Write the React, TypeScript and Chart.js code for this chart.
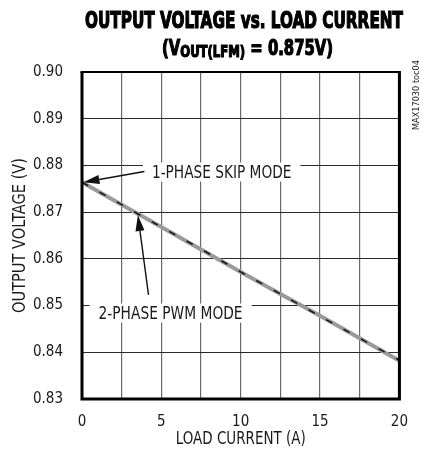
import React, { useEffect, useRef } from 'react';
import { Chart, registerables } from 'chart.js';

Chart.register(...registerables);

// ---- data ----
const loadCurrent = [0, 2.5, 5, 7.5, 10, 12.5, 15, 17.5, 20];
const skipModeVoltage = [0.8764, 0.8716, 0.8668, 0.862, 0.8572, 0.8525, 0.8478, 0.843, 0.8382];
const pwmModeVoltage = [0.8764, 0.8716, 0.8668, 0.8621, 0.8572, 0.8525, 0.8477, 0.843, 0.8383];
const xTickLabels = ['0', '5', '10', '15', '20'];
const yTickLabels = ['0.83', '0.84', '0.85', '0.86', '0.87', '0.88', '0.89', '0.90'];

const titleLine1 = 'OUTPUT VOLTAGE vs. LOAD CURRENT';
const titleLine2 = ['(V', 'OUT(LFM)', ' = 0.875V)'];
const xAxisTitle = 'LOAD CURRENT (A)';
const yAxisTitle = 'OUTPUT VOLTAGE (V)';
const sideNote = 'MAX17030 toc04';

// annotation anchors in data units
const annotationLabels = ['1-PHASE SKIP MODE', '2-PHASE PWM MODE'];
const annotationLabelX = [8.8, 5.58];
const annotationLabelY = [0.8787, 0.8485];
const arrowFromX = [3.93, 4.19];
const arrowFromY = [0.8787, 0.8523];
const arrowToX = [0.09, 3.52];
const arrowToY = [0.8764, 0.8694];

const NARROW = "'Liberation Sans Narrow', 'Arial Narrow', 'DejaVu Sans Condensed', sans-serif";

function drawFit(ctx: CanvasRenderingContext2D, text: string, cx: number, baseline: number, width: number, font: string, bold = false) {
  ctx.save();
  ctx.font = font;
  const w = ctx.measureText(text).width;
  const sx = width / w;
  ctx.translate(cx - width / 2, baseline);
  ctx.scale(sx, 1);
  ctx.textAlign = 'left';
  ctx.textBaseline = 'alphabetic';
  ctx.fillText(text, 0, 0);
  if (bold) {
    ctx.lineWidth = 1.2;
    ctx.strokeText(text, 0, 0);
  }
  ctx.restore();
}

function arrow(ctx: CanvasRenderingContext2D, x1: number, y1: number, x2: number, y2: number) {
  const ang = Math.atan2(y2 - y1, x2 - x1);
  const len = 16;
  const hw = 4.5;
  const bx = x2 - Math.cos(ang) * len;
  const by = y2 - Math.sin(ang) * len;
  ctx.save();
  ctx.strokeStyle = '#111';
  ctx.fillStyle = '#111';
  ctx.lineWidth = 1.4;
  ctx.beginPath();
  ctx.moveTo(x1, y1);
  ctx.lineTo(bx, by);
  ctx.stroke();
  ctx.beginPath();
  ctx.moveTo(x2, y2);
  ctx.lineTo(bx + Math.sin(ang) * hw, by - Math.cos(ang) * hw);
  ctx.lineTo(bx - Math.sin(ang) * hw, by + Math.cos(ang) * hw);
  ctx.closePath();
  ctx.fill();
  ctx.restore();
}

const decorPlugin = {
  id: 'decor',
  afterDatasetsDraw(chart: any) {
    const ctx: CanvasRenderingContext2D = chart.ctx;
    const xs = chart.scales.x;
    const ys = chart.scales.y;
    const widths = [139.5, 144];
    for (let i = 0; i < annotationLabels.length; i++) {
      const cx = xs.getPixelForValue(annotationLabelX[i]);
      const cy = ys.getPixelForValue(annotationLabelY[i]);
      ctx.save();
      ctx.fillStyle = '#fff';
      ctx.fillRect(cx - widths[i] / 2 - 9, cy - 9, widths[i] + 18, 19);
      ctx.fillStyle = '#1a1a1a';
      drawFit(ctx, annotationLabels[i], cx, cy + 6.6, widths[i], `18px ${NARROW}`);
      ctx.restore();
      arrow(
        ctx,
        xs.getPixelForValue(arrowFromX[i]),
        ys.getPixelForValue(arrowFromY[i]),
        xs.getPixelForValue(arrowToX[i]),
        ys.getPixelForValue(arrowToY[i])
      );
    }
  },
  afterDraw(chart: any) {
    const ctx: CanvasRenderingContext2D = chart.ctx;
    const a = chart.chartArea;
    // frame
    ctx.save();
    ctx.strokeStyle = '#000';
    ctx.lineWidth = 3;
    ctx.beginPath();
    ctx.moveTo(a.left, a.top);
    ctx.lineTo(a.left, a.bottom);
    ctx.lineTo(a.right, a.bottom);
    ctx.lineTo(a.right, a.top);
    ctx.stroke();
    ctx.lineWidth = 2;
    ctx.beginPath();
    ctx.moveTo(a.left - 1.5, a.top);
    ctx.lineTo(a.right + 1.5, a.top);
    ctx.stroke();
    ctx.restore();

    // axis titles
    ctx.save();
    ctx.fillStyle = '#1a1a1a';
    drawFit(ctx, xAxisTitle, (a.left + a.right) / 2, 444, 130, `17px ${NARROW}`);
    ctx.translate(25, (a.top + a.bottom) / 2);
    ctx.rotate(-Math.PI / 2);
    drawFit(ctx, yAxisTitle, 0, 0, 155, `18px ${NARROW}`);
    ctx.restore();

    // title
    ctx.save();
    ctx.fillStyle = '#000';
    ctx.strokeStyle = '#000';
    drawFit(ctx, titleLine1, 244, 28.3, 318, `bold 23px ${NARROW}`, true);
    const big = `bold 21px ${NARROW}`;
    const small = `bold 16.5px ${NARROW}`;
    ctx.font = big;
    const w0 = ctx.measureText(titleLine2[0]).width;
    const w2 = ctx.measureText(titleLine2[2]).width;
    ctx.font = small;
    const w1 = ctx.measureText(titleLine2[1]).width;
    const total = w0 + w1 + w2;
    const sx = 171 / total;
    ctx.translate(162, 55);
    ctx.scale(sx, 1);
    ctx.lineWidth = 1.2;
    ctx.font = big;
    ctx.fillText(titleLine2[0], 0, 0);
    ctx.strokeText(titleLine2[0], 0, 0);
    ctx.font = small;
    ctx.fillText(titleLine2[1], w0, 1.7);
    ctx.strokeText(titleLine2[1], w0, 1.7);
    ctx.font = big;
    ctx.fillText(titleLine2[2], w0 + w1, 0);
    ctx.strokeText(titleLine2[2], w0 + w1, 0);
    ctx.restore();

    // side note
    ctx.save();
    ctx.fillStyle = '#222';
    ctx.translate(419, 95);
    ctx.rotate(-Math.PI / 2);
    drawFit(ctx, sideNote, 0, 0, 70, `9px ${NARROW}`);
    ctx.restore();
  },
};

export default function App() {
  const ref = useRef<HTMLCanvasElement | null>(null);
  useEffect(() => {
    if (!ref.current) return;
    const chart = new Chart(ref.current, {
      type: 'line',
      data: {
        datasets: [
          {
            label: '2-PHASE PWM MODE',
            data: loadCurrent.map((x, i) => ({ x, y: pwmModeVoltage[i] })),
            borderColor: '#1a1a1a',
            borderWidth: 1.6,
            borderDash: [7, 13],
            pointRadius: 0,
            order: 0,
          },
          {
            label: '1-PHASE SKIP MODE',
            data: loadCurrent.map((x, i) => ({ x, y: skipModeVoltage[i] })),
            borderColor: '#9a9a9a',
            borderWidth: 4,
            pointRadius: 0,
            order: 1,
          },
        ],
      },
      options: {
        animation: false,
        responsive: false,
        devicePixelRatio: 1,
        layout: { padding: { top: 72, right: 13, left: 0, bottom: 0 } },
        plugins: { legend: { display: false }, tooltip: { enabled: false }, title: { display: false } },
        scales: {
          x: {
            type: 'linear',
            min: 0,
            max: 20,
            afterFit: (s: any) => {
              s.height = 61;
            },
            afterBuildTicks: (s: any) => {
              s.ticks = loadCurrent.map((v) => ({ value: v }));
            },
            ticks: {
              padding: 14,
              color: '#1a1a1a',
              font: { family: "'DejaVu Sans Condensed', sans-serif", size: 15 },
              maxRotation: 0,
              autoSkip: false,
              callback: (v: any) => {
                const s = String(v);
                return xTickLabels.includes(s) ? s : '';
              },
            },
            grid: { color: '#6a6a6a', lineWidth: 1.2, drawTicks: false },
            border: { display: false },
            title: { display: false },
          },
          y: {
            type: 'linear',
            min: 0.83,
            max: 0.9,
            afterFit: (s: any) => {
              s.width = 82;
            },
            afterBuildTicks: (s: any) => {
              s.ticks = yTickLabels.map((t) => ({ value: parseFloat(t) }));
            },
            ticks: {
              padding: 19,
              color: '#1a1a1a',
              font: { family: "'DejaVu Sans Condensed', sans-serif", size: 15 },
              autoSkip: false,
              callback: (v: any) => Number(v).toFixed(2),
            },
            grid: { color: '#2a2a2a', lineWidth: 1, drawTicks: false },
            border: { display: false },
            title: { display: false },
          },
        },
      },
      plugins: [decorPlugin],
    });
    return () => chart.destroy();
  }, []);
  return (
    <div style={{ position: 'absolute', left: 0, top: 0, width: 422, height: 460, background: '#fff' }}>
      <canvas ref={ref} width={422} height={460} style={{ width: 422, height: 460, display: 'block' }} />
    </div>
  );
}
